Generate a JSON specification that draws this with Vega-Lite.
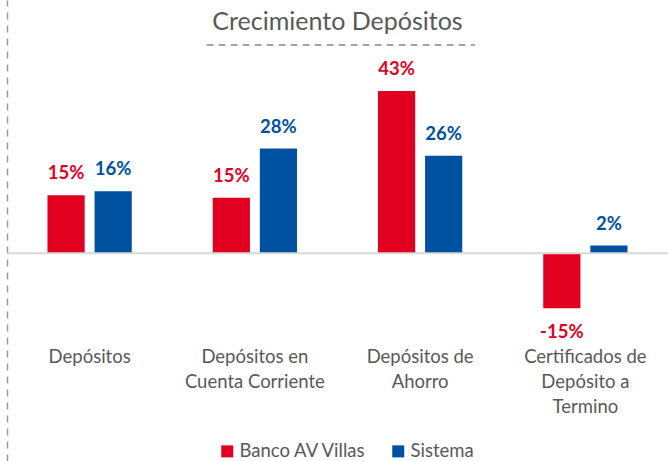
{
  "$schema": "https://vega.github.io/schema/vega-lite/v6.json",
  "width": 661,
  "height": 461,
  "autosize": {"type": "none"},
  "padding": {"left": 7, "top": 0, "right": 0, "bottom": 0},
  "background": "white",
  "config": {
    "view": {"stroke": null},
    "font": "Lato",
    "locale": {"number": {"decimal": ".", "thousands": ",", "grouping": [3], "currency": ["$", ""], "minus": "-", "percent": "%"}}
  },
  "title": {
    "text": "Crecimiento Depósitos",
    "font": "Lato",
    "fontSize": 25,
    "fontWeight": "normal",
    "color": "#595959",
    "anchor": "middle",
    "baseline": "alphabetic",
    "offset": -30,
    "dy": 25
  },
  "resolve": {"scale": {"x": "independent", "y": "independent"}},
  "layer": [
    {
      "layer": [
        {
          "data": {
            "values": [
              {"categoria": "Depósitos", "serie": "Banco AV Villas", "valor": 0.153},
              {"categoria": "Depósitos", "serie": "Sistema", "valor": 0.164},
              {"categoria": "Depósitos en Cuenta Corriente", "serie": "Banco AV Villas", "valor": 0.147},
              {"categoria": "Depósitos en Cuenta Corriente", "serie": "Sistema", "valor": 0.277},
              {"categoria": "Depósitos de Ahorro", "serie": "Banco AV Villas", "valor": 0.429},
              {"categoria": "Depósitos de Ahorro", "serie": "Sistema", "valor": 0.258},
              {"categoria": "Certificados de Depósito a Termino", "serie": "Banco AV Villas", "valor": -0.146},
              {"categoria": "Certificados de Depósito a Termino", "serie": "Sistema", "valor": 0.020}
            ]
          },
          "encoding": {
            "x": {
              "field": "categoria",
              "type": "nominal",
              "sort": ["Depósitos", "Depósitos en Cuenta Corriente", "Depósitos de Ahorro", "Certificados de Depósito a Termino"],
              "scale": {
                "domain": ["Depósitos", "Depósitos en Cuenta Corriente", "Depósitos de Ahorro", "Certificados de Depósito a Termino"],
                "paddingInner": 0.49,
                "paddingOuter": 0.245
              },
              "axis": {
                "orient": "bottom",
                "offset": -114,
                "title": null,
                "domain": false,
                "ticks": false,
                "labelPadding": 0,
                "labelAngle": 0,
                "labelFont": "Lato",
                "labelFontSize": 18.5,
                "labelColor": "#595959",
                "labelLineHeight": 25,
                "labelOverlap": false,
                "labelBound": false,
                "labelLimit": 0,
                "labelExpr": "datum.label == 'Depósitos en Cuenta Corriente' ? ['Depósitos en', 'Cuenta Corriente'] : datum.label == 'Depósitos de Ahorro' ? ['Depósitos de', 'Ahorro'] : datum.label == 'Certificados de Depósito a Termino' ? ['Certificados de', 'Depósito a', 'Termino'] : datum.label"
              }
            },
            "xOffset": {
              "field": "serie",
              "type": "nominal",
              "scale": {"domain": ["Banco AV Villas", "Sistema"], "paddingInner": 0.21, "paddingOuter": 0}
            },
            "y": {
              "field": "valor",
              "type": "quantitative",
              "scale": {"domain": [-0.55, 0.67], "nice": false, "zero": false},
              "axis": {
                "title": null,
                "labels": false,
                "ticks": false,
                "grid": false,
                "domain": true,
                "domainColor": "#9a9a9a",
                "domainWidth": 1.5,
                "domainDash": [7, 6]
              }
            },
            "color": {
              "field": "serie",
              "type": "nominal",
              "scale": {"domain": ["Banco AV Villas", "Sistema"], "range": ["#E1001F", "#0051A0"]},
              "legend": {
                "title": null,
                "orient": "none",
                "direction": "horizontal",
                "legendX": 211,
                "legendY": 442,
                "symbolType": "square",
                "symbolSize": 144,
                "symbolStrokeWidth": 0,
                "labelFont": "Lato",
                "labelFontSize": 18.5,
                "labelColor": "#595959",
                "labelOffset": 3,
                "columnPadding": 22
              }
            }
          },
          "layer": [
            {"mark": {"type": "bar"}},
            {
              "transform": [{"filter": "datum.valor >= 0"}],
              "mark": {"type": "text", "baseline": "alphabetic", "dy": -16, "fontWeight": "bold", "fontSize": 18.5, "font": "Lato"},
              "encoding": {"text": {"field": "valor", "type": "quantitative", "format": ".0%"}}
            },
            {
              "transform": [{"filter": "datum.valor < 0"}],
              "mark": {"type": "text", "baseline": "alphabetic", "dy": 30, "fontWeight": "bold", "fontSize": 18.5, "font": "Lato"},
              "encoding": {"text": {"field": "valor", "type": "quantitative", "format": ".0%"}}
            }
          ]
        },
        {
          "data": {"values": [{}]},
          "mark": {"type": "rule", "color": "#d9d9d9", "strokeWidth": 2},
          "encoding": {"y": {"datum": 0, "type": "quantitative"}}
        }
      ]
    },
    {
      "data": {"values": [{}]},
      "mark": {"type": "rule", "color": "#8a8a8a", "strokeWidth": 1.5, "strokeDash": [7, 5]},
      "encoding": {
        "x": {"datum": 0.302, "type": "quantitative", "scale": {"domain": [0, 1]}, "axis": null},
        "x2": {"datum": 0.708},
        "y": {"datum": 0.551, "type": "quantitative", "scale": {"domain": [-0.55, 0.67], "nice": false, "zero": false}, "axis": null}
      }
    }
  ]
}
